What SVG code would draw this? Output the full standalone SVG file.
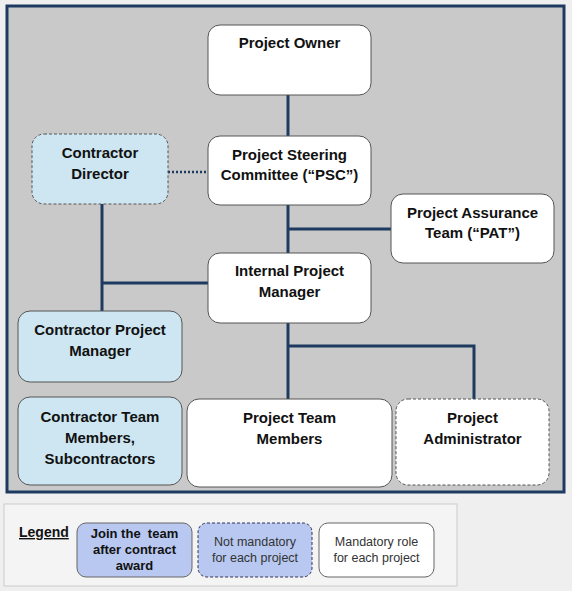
<svg xmlns="http://www.w3.org/2000/svg" width="572" height="591" viewBox="0 0 572 591">
<style>
.node{fill:#ffffff;stroke:#555555;stroke-width:1}
.con{fill:#cde6f1;stroke:#555555;stroke-width:1}
.dash{stroke-dasharray:3 2}
.t{font-family:"Liberation Sans",Arial,sans-serif;font-weight:bold;font-size:15px;fill:#111111;text-anchor:middle}
.lt{font-family:"Liberation Sans",Arial,sans-serif;font-size:12.5px;fill:#333333;text-anchor:middle}
.ltb{font-family:"Liberation Sans",Arial,sans-serif;font-weight:bold;font-size:13px;fill:#111111;text-anchor:middle}
.ln{fill:none;stroke:#1f3a60;stroke-width:3}
</style>
<rect x="0" y="0" width="572" height="591" fill="#efefef"/>
<rect x="7" y="6" width="557" height="486" fill="#c9c9c9" stroke="#1f3a60" stroke-width="3"/>
<g id="connectors">
<line class="ln" x1="288" y1="95" x2="288" y2="136"/>
<line class="ln" x1="288" y1="205" x2="288" y2="253"/>
<line class="ln" x1="288" y1="229" x2="391" y2="229"/>
<line class="ln" x1="102" y1="204" x2="102" y2="311"/>
<line class="ln" x1="102" y1="283" x2="208" y2="283"/>
<polyline class="ln" points="288,323 288,399"/>
<polyline class="ln" points="288,346 474,346 474,399"/>
<line x1="168" y1="172" x2="208" y2="172" stroke="#1f3a60" stroke-width="2.5" stroke-dasharray="2 2"/>
</g>
<g id="project-owner">
<rect class="node" x="208" y="25" width="163" height="70" rx="12"/>
<text class="t" x="289.5" y="48">Project Owner</text>
</g>
<g id="psc">
<rect class="node" x="208" y="136" width="163" height="69" rx="12"/>
<text class="t" x="289.5" y="160">Project Steering</text>
<text class="t" x="289.5" y="180">Committee (“PSC”)</text>
</g>
<g id="contractor-director">
<rect class="con dash" x="32" y="134" width="136" height="70" rx="12"/>
<text class="t" x="100" y="158">Contractor</text>
<text class="t" x="100" y="179">Director</text>
</g>
<g id="pat">
<rect class="node" x="391" y="194" width="163" height="69" rx="12"/>
<text class="t" x="472.5" y="218">Project Assurance</text>
<text class="t" x="472.5" y="238">Team (“PAT”)</text>
</g>
<g id="ipm">
<rect class="node" x="208" y="253" width="163" height="70" rx="12"/>
<text class="t" x="289.5" y="276">Internal Project</text>
<text class="t" x="289.5" y="297">Manager</text>
</g>
<g id="contractor-pm">
<rect class="con" x="18" y="311" width="164" height="71" rx="12"/>
<text class="t" x="100" y="335">Contractor Project</text>
<text class="t" x="100" y="356">Manager</text>
</g>
<g id="contractor-team">
<rect class="con" x="18" y="397" width="164" height="88" rx="12"/>
<text class="t" x="100" y="422">Contractor Team</text>
<text class="t" x="100" y="443">Members,</text>
<text class="t" x="100" y="464">Subcontractors</text>
</g>
<g id="project-team">
<rect class="node" x="187" y="399" width="205" height="88" rx="12"/>
<text class="t" x="289.5" y="423">Project Team</text>
<text class="t" x="289.5" y="444">Members</text>
</g>
<g id="project-admin">
<rect class="node dash" x="396" y="399" width="153" height="86" rx="12"/>
<text class="t" x="472.5" y="423">Project</text>
<text class="t" x="472.5" y="444">Administrator</text>
</g>
<g id="legend">
<rect x="4" y="504" width="453" height="82" fill="#f4f4f4" stroke="#cccccc" stroke-width="1"/>
<text x="19" y="537" font-family="Liberation Sans, Arial, sans-serif" font-weight="bold" font-size="14" fill="#111111" text-decoration="underline">Legend</text>
<rect x="77" y="523" width="115" height="54" rx="9" fill="#b8c8f0" stroke="#666666"/>
<text class="ltb" x="134.5" y="538" xml:space="preserve">Join the  team</text>
<text class="ltb" x="134.5" y="554">after contract</text>
<text class="ltb" x="134.5" y="570">award</text>
<rect x="198" y="523" width="114" height="54" rx="9" fill="#b8c8f0" stroke="#333355" stroke-dasharray="3 2"/>
<text class="lt" x="255" y="546">Not mandatory</text>
<text class="lt" x="255" y="562">for each project</text>
<rect x="319" y="523" width="115" height="54" rx="9" fill="#ffffff" stroke="#666666"/>
<text class="lt" x="376.5" y="546">Mandatory role</text>
<text class="lt" x="376.5" y="562">for each project</text>
</g>
</svg>
